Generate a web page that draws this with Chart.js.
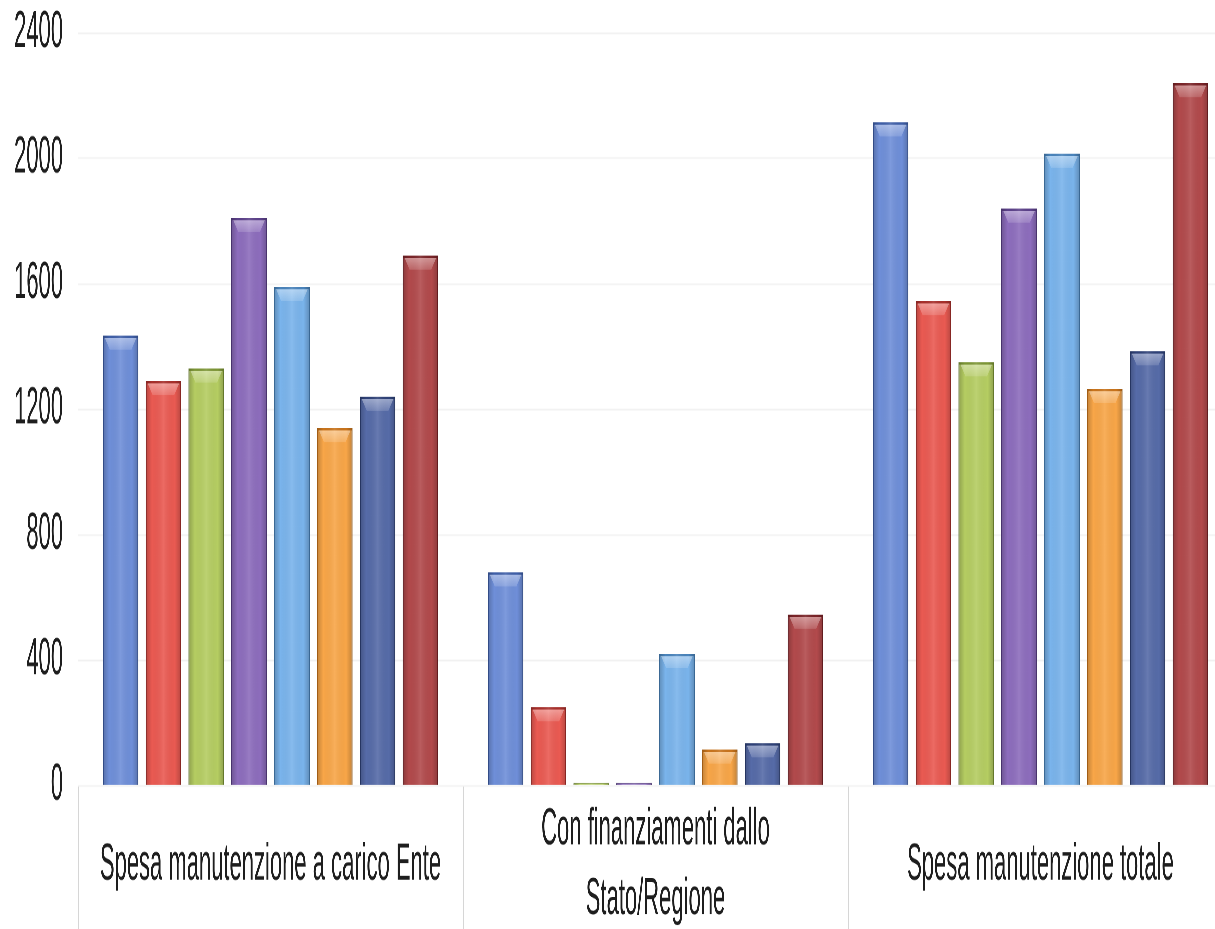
<!DOCTYPE html>
<html lang="it">
<head>
  <meta charset="UTF-8" />
  <title>Spesa manutenzione</title>
  <script src="https://cdn.jsdelivr.net/npm/chart.js"></script>
  <style>
    html, body {
      margin: 0;
      padding: 0;
      background: #fff;
      overflow: hidden;
      width: 1215px;
      height: 929px;
    }
    /* the original picture is stretched vertically, so draw flat and scale up */
    .wrap {
      width: 1233px;
      height: 395px;
      transform: scaleY(2.352);
      transform-origin: 0 0;
    }
  </style>
</head>
<body>
  <div class="wrap">
    <canvas id="chart" width="1233" height="395"></canvas>
  </div>

  <script>
    const categories = [
      "Spesa manutenzione a carico Ente",
      ["Con finanziamenti dallo", "Stato/Regione"],
      "Spesa manutenzione totale"
    ];
    const seriesNames = ["Serie 1", "Serie 2", "Serie 3", "Serie 4", "Serie 5", "Serie 6", "Serie 7", "Serie 8"];
    // one array per series: [a carico Ente, finanziamenti Stato/Regione, totale]
    const serie1 = [1435, 680, 2115];
    const serie2 = [1290, 250, 1545];
    const serie3 = [1330, 8, 1350];
    const serie4 = [1810, 8, 1840];
    const serie5 = [1590, 420, 2015];
    const serie6 = [1140, 115, 1265];
    const serie7 = [1240, 135, 1385];
    const serie8 = [1690, 545, 2240];
    const yTicks = [0, 400, 800, 1200, 1600, 2000, 2400];

    const fills   = ['#6f8fd9', '#ea5a52', '#b5cd62', '#8d6dbd', '#7ab4ec', '#f8a648', '#566ba8', '#b24a4c'];
    const borders = ['#3f5fa8', '#a8302c', '#7d9636', '#5c418a', '#4a84bc', '#c9741c', '#2f4278', '#7a2428'];

    const allSeries = [serie1, serie2, serie3, serie4, serie5, serie6, serie7, serie8];

    // bevel look: darker sides and a light cap on top of each bar
    const bevel = {
      id: 'bevel',
      afterDatasetsDraw(chart) {
        const ctx = chart.ctx;
        chart.data.datasets.forEach((ds, i) => {
          const meta = chart.getDatasetMeta(i);
          meta.data.forEach(bar => {
            const p = bar.getProps(['x', 'y', 'base', 'width'], true);
            const left = p.x - p.width / 2, right = p.x + p.width / 2;
            const h = p.base - p.y;
            if (h <= 0) return;
            ctx.save();
            const g = ctx.createLinearGradient(left, 0, right, 0);
            g.addColorStop(0, 'rgba(0,0,0,0.22)');
            g.addColorStop(0.18, 'rgba(0,0,0,0)');
            g.addColorStop(0.5, 'rgba(255,255,255,0.10)');
            g.addColorStop(0.82, 'rgba(0,0,0,0)');
            g.addColorStop(1, 'rgba(0,0,0,0.22)');
            ctx.fillStyle = g;
            ctx.fillRect(left, p.y, p.width, h);
            const cap = Math.min(6, h / 2);
            const cg = ctx.createLinearGradient(0, p.y, 0, p.y + cap);
            cg.addColorStop(0, 'rgba(255,255,255,0.45)');
            cg.addColorStop(1, 'rgba(255,255,255,0.15)');
            ctx.beginPath();
            ctx.moveTo(left + 2, p.y + 1);
            ctx.lineTo(right - 2, p.y + 1);
            ctx.lineTo(right - 7, p.y + cap);
            ctx.lineTo(left + 7, p.y + cap);
            ctx.closePath();
            ctx.fillStyle = cg;
            ctx.fill();
            ctx.restore();
          });
        });
      }
    };

    new Chart(document.getElementById('chart'), {
      type: 'bar',
      data: {
        labels: categories,
        datasets: allSeries.map((vals, i) => ({
          label: seriesNames[i],
          data: vals,
          backgroundColor: fills[i],
          borderColor: borders[i],
          borderWidth: 1,
          categoryPercentage: 0.89,
          barPercentage: 0.83
        }))
      },
      options: {
        responsive: false,
        animation: false,
        devicePixelRatio: 3,
        layout: { padding: { top: 14, left: 0, right: 0, bottom: 0 } },
        plugins: {
          legend: { display: false },
          tooltip: { enabled: false }
        },
        scales: {
          x: {
            border: { display: false },
            grid: {
              offset: true,
              drawOnChartArea: false,
              drawTicks: true,
              tickLength: 61,
              color: '#d6d6d6',
              lineWidth: 1
            },
            ticks: {
              maxRotation: 0,
              autoSkip: false,
              padding: -42,
              crossAlign: 'center',
              color: '#1e1e1e',
              font: { family: "'Liberation Sans', Arial, sans-serif", size: 22, lineHeight: 1.35 }
            },
            afterFit(scale) { scale.height = 61; scale.paddingTop = 0; scale.paddingBottom = 0; }
          },
          y: {
            min: 0,
            max: 2400,
            afterBuildTicks(scale) { scale.ticks = yTicks.map(v => ({ value: v })); },
            border: { display: false },
            grid: { color: '#f1f1f1', lineWidth: 0.6, drawTicks: false },
            ticks: {
              padding: 15,
              color: '#1e1e1e',
              callback: v => String(v),
              font: { family: "'Liberation Sans', Arial, sans-serif", size: 22 }
            },
            afterFit(scale) { scale.width = 78; scale.paddingTop = 0; scale.paddingBottom = 0; }
          }
        }
      },
      plugins: [bevel]
    });
  </script>
</body>
</html>
